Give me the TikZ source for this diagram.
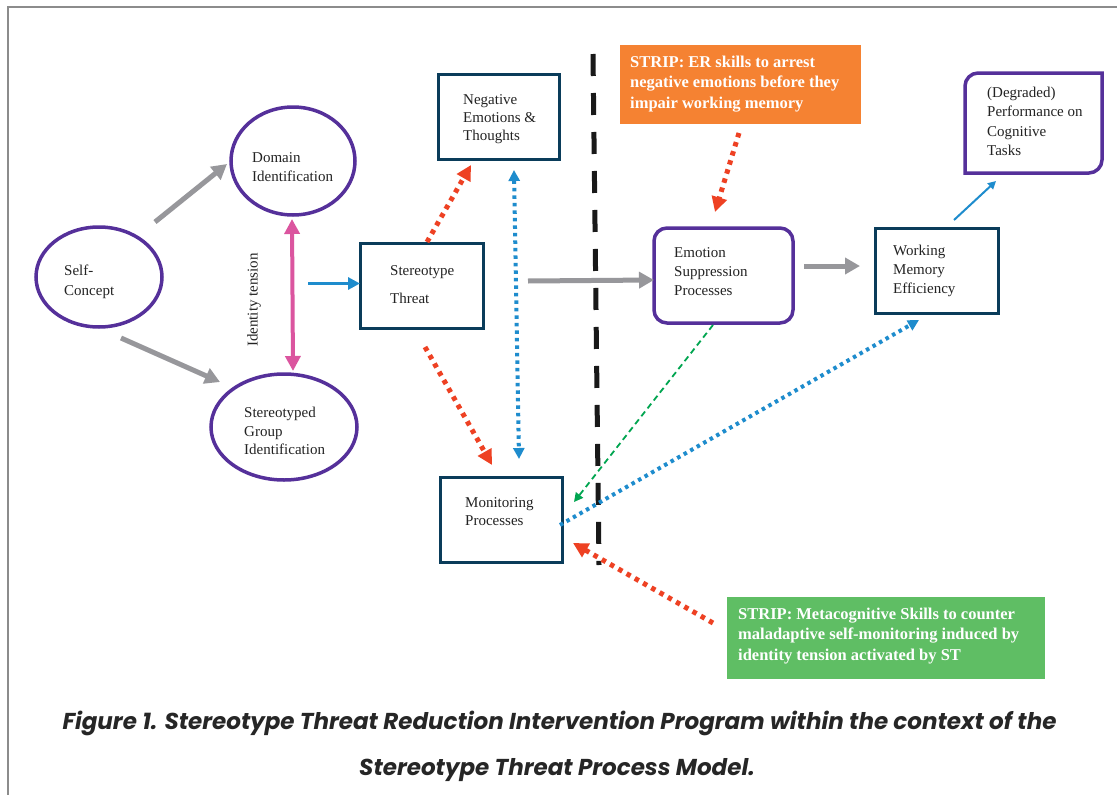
\documentclass[tikz,border=0pt]{standalone}
\usepackage{fontspec}
\setmainfont{Liberation Serif}
\newfontfamily\capfont{Poppins}
\usetikzlibrary{arrows.meta,calc,shapes.geometric}
\definecolor{purp}{RGB}{85,48,154}
\definecolor{navy}{RGB}{10,60,90}
\definecolor{arrgray}{RGB}{151,151,155}
\definecolor{pinkc}{RGB}{219,85,159}
\definecolor{bluec}{RGB}{30,140,205}
\definecolor{redc}{RGB}{238,65,35}
\definecolor{orangec}{RGB}{245,130,50}
\definecolor{greenbox}{RGB}{95,190,100}
\definecolor{greenline}{RGB}{0,165,80}
\definecolor{framec}{RGB}{140,140,140}
\definecolor{dashk}{RGB}{25,25,25}
\definecolor{txtc}{RGB}{35,35,35}
\begin{document}
\begin{tikzpicture}[x=1pt,y=-1pt,
  ell/.style={ellipse, draw=purp, line width=3.5pt, inner sep=0pt, outer sep=0pt},
  navybox/.style={rectangle, draw=navy, line width=3pt, inner sep=0pt, outer sep=0pt},
  purpbox/.style={rectangle, rounded corners=13pt, draw=purp, line width=3.5pt, inner sep=0pt, outer sep=0pt},
  stripbox/.style={rectangle, inner sep=0pt, outer sep=0pt},
  txt/.style={anchor=north west, inner sep=0pt, align=left, text=txtc, font=\fontsize{15}{19}\selectfont},
  striptxt/.style={anchor=north west, inner sep=0pt, align=left, text=white, font=\bfseries\fontsize{16.5}{20.7}\selectfont},
  grayarr/.style={draw=arrgray, line width=5pt, -{Triangle[length=15pt,width=16pt]}},
  pinkarr/.style={draw=pinkc, line width=4pt, {Triangle[length=15pt,width=15pt]}-{Triangle[length=15pt,width=15pt]}},
  bluearr/.style={draw=bluec, line width=3.5pt, -{Triangle[length=12pt,width=12pt]}},
  bluethin/.style={draw=bluec, line width=2pt, -{Triangle[length=8pt,width=8pt]}},
  reddot/.style={draw=redc, line width=5pt, dash pattern=on 4.5pt off 5pt, -{Triangle[length=15pt,width=15pt]}},
  bluedot/.style={draw=bluec, line width=4pt, dash pattern=on 3.5pt off 4pt, -{Triangle[length=11pt,width=11pt]}},
  greendash/.style={draw=greenline, line width=1.8pt, dash pattern=on 6pt off 4pt, -{Triangle[length=9pt,width=9pt]}},
  captxt/.style={anchor=base, inner sep=0pt, text=black!85!white, font=\capfont\bfseries\itshape\fontsize{23}{27}\selectfont}
]
\useasboundingbox (0,0) rectangle (1117,795);
\fill[white] (0,0) rectangle (1117,795);
% frame
\draw[framec, line width=2pt] (8,795) -- (8,7) -- (1117,7);

% shapes
\node[ell, minimum width=126pt, minimum height=100pt] (sc) at (99,277) {};
\node[ell, minimum width=124pt, minimum height=108pt] (dom) at (293,161) {};
\node[ell, minimum width=146pt, minimum height=106pt] (sgi) at (284,427) {};
\node[navybox, minimum width=121pt, minimum height=85pt] (neg) at (498.5,116.5) {};
\node[navybox, minimum width=123pt, minimum height=85pt] (st) at (421.5,285.5) {};
\node[navybox, minimum width=122pt, minimum height=85pt] (mon) at (501,519.5) {};
\node[purpbox, minimum width=139pt, minimum height=95pt] (es) at (723.5,275.5) {};
\node[navybox, minimum width=123pt, minimum height=85pt] (wm) at (936.5,270.5) {};
\node[stripbox, minimum width=137pt, minimum height=100pt] (perf) at (1033.5,123) {};
\draw[purp, line width=3.5pt, line join=miter]
  (perf.south west) -- ($(perf.north west)+(0,13)$)
  .. controls ($(perf.north west)+(0,6)$) and ($(perf.north west)+(6,0)$) .. ($(perf.north west)+(13,0)$)
  -- (perf.north east) -- ($(perf.south east)+(0,-13)$)
  .. controls ($(perf.south east)+(0,-6)$) and ($(perf.south east)+(-6,0)$) .. ($(perf.south east)+(-13,0)$)
  -- cycle;
\node[stripbox, fill=orangec, minimum width=241pt, minimum height=79pt] (orange) at (740.5,84.5) {};
\node[stripbox, fill=greenbox, minimum width=318pt, minimum height=82pt] (green) at (886,638) {};

% texts
\node[txt, font=\fontsize{15}{20}\selectfont] (scT) at (64,265) {Self-\\Concept};
\node[txt] (domT) at (252,152) {Domain\\Identification};
\node[txt, font=\fontsize{15}{18.5}\selectfont] (sgiT) at (244,407) {Stereotyped\\Group\\Identification};
\node[txt, font=\fontsize{15}{18}\selectfont] (negT) at (463,94) {Negative\\Emotions \&\\Thoughts};
\node[txt] (stT) at (390,265) {Stereotype\\[9pt]Threat};
\node[txt, font=\fontsize{15}{18}\selectfont] (monT) at (465,497) {Monitoring\\Processes};
\node[txt] (esT) at (674,247) {Emotion\\Suppression\\Processes};
\node[txt] (wmT) at (893,245) {Working\\Memory\\Efficiency};
\node[txt, font=\fontsize{15}{19.3}\selectfont] (perfT) at (987,87) {(Degraded)\\Performance on\\Cognitive\\Tasks};
\node[striptxt] (orangeT) at (630,55.5) {STRIP: ER skills to arrest\\negative emotions before they\\impair working memory};
\node[striptxt] (greenT) at (738,607.5) {STRIP: Metacognitive Skills to counter\\maladaptive self-monitoring induced by\\identity tension activated by ST};
\node[inner sep=0pt, rotate=90, text=txtc, font=\fontsize{15}{19}\selectfont] (itT) at (254,300) {Identity tension};

% dashed divider
\draw[dashk, line width=5pt, dash pattern=on 22pt off 17pt] (593,54) -- (599,565);

% connectors
\draw[grayarr] ($(sc)+(56,-55)$) -- ($(dom)+(-66,3)$);
\draw[grayarr] ($(sc)+(22,61)$) -- ($(sgi)+(-64,-45)$);
\draw[pinkarr] ($(dom.south)+(-1,4)$) -- ($(sgi)+(9,-56)$);
\draw[bluearr] ($(st.west)+(-52,-2)$) -- ($(st.west)+(0,-2)$);
\draw[reddot] ($(st.north)+(5.5,-1)$) -- ($(neg.south)+(-27.5,6)$);
\draw[bluedot, {Triangle[length=11pt,width=11pt]}-{Triangle[length=11pt,width=11pt]}] ($(neg.south)+(15.5,11)$) -- ($(mon.north)+(18,-18)$);
\draw[reddot] ($(st.south)+(3.5,19)$) -- ($(mon.north)+(-9,-12)$);
\draw[grayarr] ($(st.east)+(45,-4.5)$) -- ($(es.west)+(0,4.5)$);
\draw[reddot] ($(orange.south)+(-1.5,9)$) -- ($(es.north)+(-8.5,-16)$);
\draw[grayarr] ($(es.east)+(11,-9.5)$) -- ($(wm.west)+(-15,-4.5)$);
\draw[bluethin] ($(wm.north)+(17.5,-8)$) -- ($(perf.south)+(-37.5,8)$);
\draw[greendash] ($(es.south)+(-10.5,2)$) -- ($(mon.east)+(12,-17.5)$);
\draw[bluedot] ($(mon.east)+(-2,5.5)$) -- ($(wm.south)+(-17.5,7)$);
\draw[reddot] ($(green.west)+(-14,-15)$) -- ($(mon.east)+(11,23.5)$);

% caption
\node[captxt] (cap1) at (559.5,729) {Figure 1. Stereotype Threat Reduction Intervention Program within the context of the};
\node[captxt] (cap2) at (557,775) {Stereotype Threat Process Model.};
\end{tikzpicture}
\end{document}
